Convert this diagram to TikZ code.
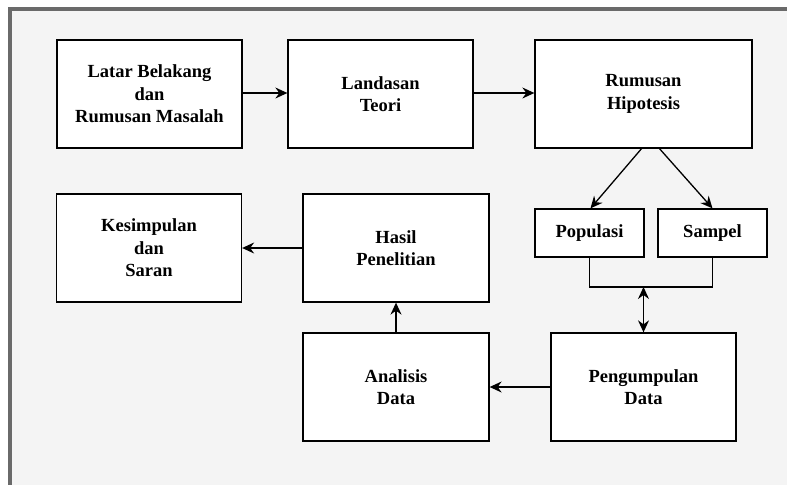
\documentclass[tikz,border=0pt]{standalone}
\usepackage{fontspec}
\setmainfont{Liberation Serif}
\usetikzlibrary{arrows.meta}
\definecolor{bgc}{HTML}{F4F4F4}
\definecolor{framec}{HTML}{6A6A6A}
\begin{document}
\begin{tikzpicture}[x=1pt,y=-1pt,
  box/.style={draw=black,line width=1.3pt,fill=white,inner sep=0pt,align=center,
    font=\fontsize{18.5}{22.5}\selectfont\bfseries},
  tip/.tip={Stealth[length=12pt,width=11pt,inset=4pt]},
  conn/.style={line width=1.3pt,-tip},
  dconn/.style={line width=1.3pt,tip-tip},
  line/.style={line width=1.3pt}]
\useasboundingbox (0,0) rectangle (787,485);
\fill[white] (0,0) rectangle (787,485);
\fill[framec] (8,7) rectangle (787,485);
\fill[bgc] (12,11) rectangle (787,485);

\node[box,minimum width=185pt,minimum height=108pt] (latar) at (149.5,94) {Latar Belakang\\dan\\Rumusan Masalah};
\node[box,minimum width=185pt,minimum height=108pt] (landasan) at (380.5,94) {Landasan\\Teori};
\node[box,minimum width=217pt,minimum height=108pt] (rumusan) at (643.5,94) {Rumusan\\Hipotesis};
\node[box,minimum width=109pt,minimum height=48pt] (populasi) at (589.5,233) {Populasi};
\node[box,minimum width=109pt,minimum height=48pt] (sampel) at (712.5,233) {Sampel};
\node[box,minimum width=185pt,minimum height=108pt] (kesimpulan) at (149,248) {Kesimpulan\\dan\\Saran};
\node[box,minimum width=186pt,minimum height=108pt] (hasil) at (396,248) {Hasil\\Penelitian};
\node[box,minimum width=186pt,minimum height=108pt] (analisis) at (396,387) {Analisis\\Data};
\node[box,minimum width=185pt,minimum height=108pt] (pengumpulan) at (643.5,387) {Pengumpulan\\Data};

\coordinate (bl) at (populasi.south |- 0,287);
\coordinate (br) at (sampel.south |- 0,287);
\coordinate (bm) at (pengumpulan.north |- 0,287);

\draw[conn] (latar.east |- 0,93) -- (landasan.west |- 0,93);
\draw[conn] (landasan.east |- 0,93) -- (rumusan.west |- 0,93);
\draw[conn] ([xshift=-2pt]rumusan.south) -- ([xshift=1pt]populasi.north);
\draw[conn] ([xshift=16pt]rumusan.south) -- (sampel.north);
\draw[line] (populasi.south) -- (bl) -- (br) -- (sampel.south);
\draw[dconn] (bm) -- (pengumpulan.north);
\draw[conn] (pengumpulan.west) -- (analisis.east);
\draw[conn] (analisis.north) -- (hasil.south);
\draw[conn] (hasil.west) -- (kesimpulan.east);
\end{tikzpicture}
\end{document}
